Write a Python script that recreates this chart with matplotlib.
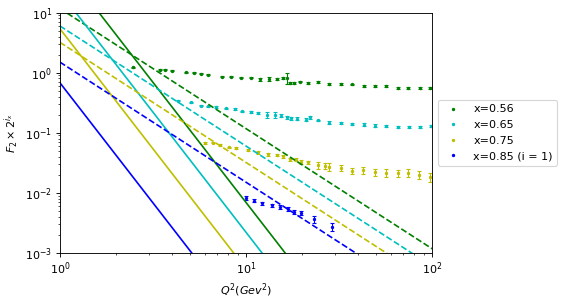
import numpy as np
import matplotlib
matplotlib.use('Agg')
import matplotlib.pyplot as plt

# --- data ---
Q2_056 = [2.47, 3.44, 3.66, 3.99, 4.78, 5.27, 5.75, 6.23, 7.41, 8.35, 9.45, 10.6,
          11.9, 13.2, 14.7, 15.7, 16.6, 17.2, 18.0, 19.4, 21.4, 24.3, 27.9, 32.2,
          37.3, 42.9, 49.3, 56.7, 65.2, 74.4, 85.5, 97.7]
F2_056 = [1.22, 1.11, 1.11, 1.07, 1.02, 0.995, 0.957, 0.93, 0.863, 0.863, 0.83, 0.83,
          0.775, 0.79, 0.79, 0.82, 0.81, 0.678, 0.68, 0.713, 0.67, 0.70, 0.645, 0.645,
          0.64, 0.60, 0.60, 0.60, 0.56, 0.56, 0.56, 0.55]
ERR_056 = [0.02, 0.02, 0.02, 0.02, 0.02, 0.02, 0.02, 0.02, 0.02, 0.02, 0.02, 0.02,
           0.05, 0.05, 0.03, 0.04, 0.17, 0.02, 0.02, 0.02, 0.02, 0.02, 0.02, 0.02,
           0.02, 0.02, 0.02, 0.02, 0.02, 0.02, 0.02, 0.02]

Q2_065 = [4.30, 5.05, 5.71, 6.23, 6.88, 7.85, 8.69, 9.48, 10.6, 11.6, 12.9, 14.3,
          15.5, 16.6, 17.5, 18.7, 20.9, 22.0, 24.3, 27.9, 32.2, 37.3, 43.0, 49.2,
          56.7, 65.2, 75.0, 85.5, 98.5]
F2_065 = [0.344, 0.321, 0.284, 0.276, 0.266, 0.255, 0.250, 0.226, 0.219, 0.211, 0.199, 0.199,
          0.192, 0.180, 0.176, 0.171, 0.165, 0.180, 0.160, 0.148, 0.145, 0.141, 0.137, 0.132,
          0.131, 0.127, 0.127, 0.127, 0.129]
ERR_065 = [0.008, 0.008, 0.008, 0.008, 0.008, 0.008, 0.008, 0.008, 0.008, 0.008, 0.025, 0.02,
           0.01, 0.01, 0.01, 0.01, 0.008, 0.008, 0.006, 0.006, 0.006, 0.006, 0.006, 0.006,
           0.005, 0.005, 0.005, 0.005, 0.005]

Q2_075 = [6.00, 6.68, 7.22, 8.07, 8.88, 10.3, 11.6, 13.1, 14.6, 15.8, 17.2, 18.5,
          19.8, 21.5, 24.4, 26.7, 27.9, 32.4, 37.3, 42.5, 49.1, 56.7, 65.2, 74.4,
          85.3, 97.8]
F2_075 = [0.0675, 0.0683, 0.0633, 0.057, 0.0559, 0.0515, 0.047, 0.0435, 0.0426, 0.0407, 0.0365, 0.0356,
          0.0326, 0.0321, 0.029, 0.0283, 0.0269, 0.0259, 0.0233, 0.0238, 0.0223, 0.0216, 0.0214, 0.0216,
          0.0198, 0.0182]
ERR_075 = [0.002, 0.002, 0.002, 0.002, 0.002, 0.002, 0.002, 0.002, 0.002, 0.002, 0.002, 0.002,
           0.002, 0.002, 0.004, 0.003, 0.004, 0.003, 0.003, 0.003, 0.003, 0.003, 0.003, 0.003,
           0.003, 0.003]

Q2_085 = [10.05, 11.0, 12.2, 13.8, 15.3, 16.7, 18.2, 19.8, 23.3, 29.1]
F2_085 = [0.0083, 0.00741, 0.00673, 0.00617, 0.00582, 0.0054, 0.00477, 0.00462, 0.00367, 0.00274]
ERR_085 = [0.0006, 0.0004, 0.0004, 0.0004, 0.0004, 0.0004, 0.0004, 0.0004, 0.0005, 0.0004]

# power-law curves: A * Q^-4 (solid) and A * Q^-2 (dashed)
A_SOLIDO = {'g': 69.0, 'c': 22.0, 'y': 5.4, 'b': 0.68}
A_TRACO  = {'g': 11.7, 'c': 6.0, 'y': 3.2, 'b': 1.5}

SERIES = [
    ('x=0.56', 'g', Q2_056, F2_056, ERR_056),
    ('x=0.65', 'c', Q2_065, F2_065, ERR_065),
    ('x=0.75', 'y', Q2_075, F2_075, ERR_075),
    ('x=0.85 (i = 1)', 'b', Q2_085, F2_085, ERR_085),
]

DPI = 80
fig = plt.figure(figsize=(565 / DPI, 300 / DPI), dpi=DPI)
ax = fig.add_axes([0.106, 0.157, 0.659, 0.801])

q = np.logspace(0, 2, 200)
for label, cor, qq, ff, ee in SERIES:
    ax.errorbar(qq, ff, yerr=ee, fmt='none', ecolor=cor, capsize=1.5, elinewidth=1)
    ax.plot(qq, ff, '.', color=cor, markersize=4, label=label)
for cor in ['g', 'c', 'y', 'b']:
    ax.plot(q, A_SOLIDO[cor] * q**-4, '-', color=cor)
    ax.plot(q, A_TRACO[cor] * q**-2, '--', color=cor)

ax.set_xscale('log'); ax.set_yscale('log')
ax.set_xlim(1, 100); ax.set_ylim(1e-3, 10)
ax.set_xlabel(r'$Q^2 (Gev^2)$')
ax.set_ylabel(r'$F_2 \times 2^{i_x}$')
ax.legend(loc='center left', bbox_to_anchor=(1.0, 0.5))

plt.savefig('out.png', dpi=DPI)
